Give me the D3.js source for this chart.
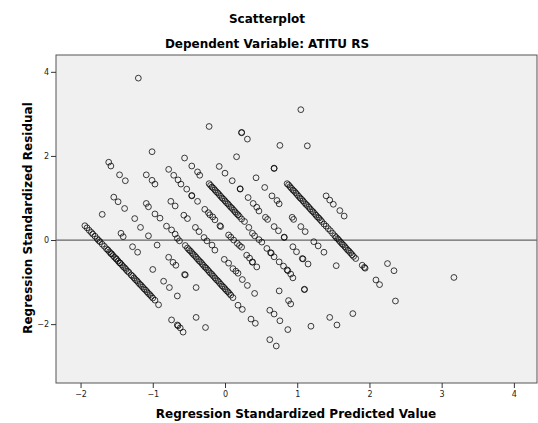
<!DOCTYPE html>
<html>
<head>
<meta charset="utf-8">
<script src="https://cdn.jsdelivr.net/npm/d3@7"></script>
<style>
  body { margin: 0; background: #fff; }
  text { font-family: "DejaVu Sans", Verdana, sans-serif; }
</style>
</head>
<body>
<svg id="chart" width="538" height="423"></svg>
<script>
// ticks
var xTicks = [-2, -1, 0, 1, 2, 3, 4];
var yTicks = [-2, 0, 2, 4];

// residual bands (predicted, residual)
var bandA = [[-1.94,0.34],[-1.91,0.29],[-1.88,0.23],[-1.85,0.18],[-1.83,0.14],[-1.80,0.09],[-1.77,0.03],
  [-1.75,-0.01],[-1.73,-0.04],[-1.70,-0.10],[-1.67,-0.15],[-1.64,-0.21],[-1.62,-0.24],[-1.60,-0.28],
  [-1.58,-0.32],[-1.57,-0.33],[-1.55,-0.37],[-1.53,-0.41],[-1.51,-0.44],[-1.50,-0.46],[-1.48,-0.50],
  [-1.46,-0.54],[-1.45,-0.55],[-1.43,-0.59],[-1.41,-0.63],[-1.39,-0.66],[-1.37,-0.70],[-1.35,-0.74],
  [-1.33,-0.77],[-1.30,-0.83],[-1.28,-0.86],[-1.26,-0.90],[-1.24,-0.94],[-1.22,-0.97],[-1.20,-1.01],
  [-1.18,-1.05],[-1.16,-1.08],[-1.14,-1.12],[-1.12,-1.16],[-1.10,-1.19],[-1.08,-1.23],[-1.06,-1.27],
  [-1.04,-1.30],[-1.02,-1.34],[-1.00,-1.38],[-0.97,-1.43],[-0.92,-1.54],
  [-0.74,-1.90],[-0.66,-2.02],[-0.65,-2.04],[-0.62,-2.09],[-0.58,-2.19]];

var band107 = [[-1.70,0.61],[-1.44,0.16],[-1.41,0.08],[-1.28,-0.16],[-1.21,-0.29],[-1.00,-0.70],
  [-0.85,-0.98],[-0.77,-1.13],[-0.66,-1.33],[-0.40,-1.84],[-0.27,-2.08]];

var band78 = [[-1.54,1.02],[-1.48,0.91],[-1.39,0.75],[-1.25,0.51],[-1.17,0.30],[-1.06,0.10],[-0.94,-0.12],
  [-0.78,-0.41],[-0.72,-0.53],[-0.68,-0.60],[-0.56,-0.82],[-0.55,-0.83],[-0.40,-1.13]];

var bandB = [[-1.61,1.85],[-1.58,1.76],[-1.46,1.55],[-1.38,1.41],[-1.09,0.87],[-1.06,0.79],[-0.97,0.62],
  [-0.90,0.52],[-0.81,0.33],[-0.74,0.24],[-0.69,0.14],[-0.66,0.04],[-0.63,-0.02],
  [-0.55,-0.13],[-0.52,-0.19],[-0.50,-0.23],[-0.48,-0.26],[-0.46,-0.30],[-0.44,-0.34],[-0.42,-0.37],
  [-0.40,-0.41],[-0.38,-0.45],[-0.36,-0.49],[-0.34,-0.52],[-0.32,-0.56],[-0.30,-0.60],[-0.28,-0.64],
  [-0.26,-0.67],[-0.24,-0.71],[-0.22,-0.75],[-0.20,-0.79],[-0.18,-0.82],[-0.16,-0.86],[-0.14,-0.90],
  [-0.12,-0.94],[-0.10,-0.97],[-0.08,-1.01],[-0.06,-1.05],[-0.04,-1.09],[-0.02,-1.12],[0.00,-1.16],
  [0.02,-1.20],[0.04,-1.23],[0.06,-1.27],[0.08,-1.31],[0.11,-1.37],
  [0.18,-1.55],[0.24,-1.65],[0.36,-1.88],[0.42,-1.98],[0.62,-2.37],[0.71,-2.52]];

var bandC = [[-1.09,1.55],[-1.01,1.42],[-0.97,1.33],[-0.75,0.92],[-0.69,0.81],[-0.57,0.59],[-0.52,0.51],
  [-0.41,0.30],[-0.36,0.20],[-0.29,0.06],[-0.25,-0.02],[-0.18,-0.12],[-0.14,-0.24],[-0.01,-0.46],
  [0.05,-0.55],[0.11,-0.68],[0.15,-0.74],[0.18,-0.79],[0.24,-0.94],[0.31,-1.08],[0.41,-1.27],
  [0.62,-1.67],[0.68,-1.76],[0.76,-1.92],[0.87,-2.13]];

var bandD = [[-1.01,2.10],[-0.78,1.68],[-0.71,1.54],[-0.65,1.43],[-0.61,1.33],[-0.53,1.21],[-0.46,1.06],
  [-0.46,1.05],[-0.38,0.92],[-0.28,0.73],[-0.23,0.65],[-0.21,0.60],[-0.17,0.55],[-0.14,0.48],
  [-0.07,0.34],[-0.06,0.32],[0.05,0.12],[0.08,0.07],[0.12,0.00],[0.17,-0.08],[0.20,-0.13],[0.23,-0.17],
  [0.30,-0.36],[0.34,-0.43],[0.38,-0.52],[0.38,-0.53],[0.44,-0.64],[0.75,-1.21],[0.88,-1.44],
  [0.91,-1.52],[1.19,-2.05]];

var bandE = [[-0.56,1.95],[-0.46,1.76],[-0.38,1.62],[-0.35,1.54],
  [-0.22,1.34],[-0.20,1.30],[-0.18,1.26],[-0.16,1.23],[-0.14,1.19],[-0.12,1.15],[-0.10,1.12],
  [-0.08,1.08],[-0.06,1.04],[-0.04,1.00],[-0.02,0.97],[0.00,0.93],[0.02,0.89],[0.04,0.86],[0.06,0.82],
  [0.08,0.78],[0.10,0.75],[0.12,0.71],[0.14,0.67],[0.16,0.63],[0.18,0.60],[0.20,0.56],[0.23,0.50],
  [0.27,0.44],[0.33,0.30],[0.38,0.16],[0.41,0.10],[0.47,0.01],[0.51,-0.05],[0.58,-0.20],[0.63,-0.30],
  [0.64,-0.31],[0.68,-0.40],[0.75,-0.52],[0.81,-0.62],[0.86,-0.71],[0.87,-0.73],[0.91,-0.81],
  [0.94,-0.90],[1.10,-1.17],[1.10,-1.18],[1.45,-1.84],[1.55,-2.02]];

var bandF = [[-1.20,3.85],[-0.08,1.75],[0.00,1.59],[0.10,1.41],[0.21,1.21],[0.21,1.22],[0.32,1.01],
  [0.39,0.87],[0.44,0.78],[0.47,0.69],[0.56,0.54],[0.59,0.49],[0.68,0.32],[0.74,0.22],[0.82,0.06],
  [0.82,0.07],[0.94,-0.16],[0.99,-0.28],[1.07,-0.44],[1.08,-0.45],[1.15,-0.57],[1.77,-1.75]];

var bandG = [[-0.22,2.70],[0.16,1.98],[0.43,1.48],[0.55,1.25],[0.65,1.05],[0.72,0.94],[0.75,0.86],
  [0.93,0.54],[0.95,0.49],[1.05,0.32],[1.11,0.20],[1.23,-0.04],[1.29,-0.14],[1.37,-0.29],[1.54,-0.61]];

var bandH = [[0.23,2.55],[0.23,2.56],[0.31,2.40],[0.68,1.70],[0.68,1.71],
  [0.86,1.34],[0.88,1.31],[0.90,1.27],[0.92,1.23],[0.94,1.19],[0.96,1.16],[0.98,1.12],[1.00,1.08],
  [1.02,1.04],[1.04,1.00],[1.06,0.97],[1.08,0.93],[1.10,0.89],[1.12,0.85],[1.14,0.82],[1.16,0.78],
  [1.18,0.74],[1.20,0.70],[1.22,0.67],[1.24,0.63],[1.26,0.59],[1.28,0.55],[1.30,0.52],[1.32,0.48],
  [1.34,0.44],[1.37,0.38],[1.40,0.33],[1.43,0.27],[1.46,0.22],[1.49,0.16],[1.52,0.10],[1.54,0.06],
  [1.56,0.03],[1.58,-0.01],[1.60,-0.05],[1.62,-0.09],[1.64,-0.12],[1.66,-0.16],[1.68,-0.20],
  [1.70,-0.24],[1.72,-0.27],[1.74,-0.31],[1.76,-0.35],[1.78,-0.39],[1.81,-0.44],
  [1.90,-0.60],[1.93,-0.65],[1.94,-0.67],[2.09,-0.95],[2.14,-1.06],[2.36,-1.45]];

var bandI = [[0.76,2.25],[1.40,1.05],[1.45,0.95],[1.50,0.85],[1.59,0.70],[1.65,0.57],[2.25,-0.56],[2.34,-0.73]];

var bandTop = [[1.14,2.24],[1.05,3.10],[3.17,-0.89]];

var points = [].concat(bandA, band107, band78, bandB, bandC, bandD, bandE, bandF, bandG, bandH, bandI, bandTop);

var svg = d3.select("#chart"),
  margin = {top: 55, right: 1, bottom: 40, left: 56},
  width = +svg.attr("width") - margin.left - margin.right,
  height = +svg.attr("height") - margin.top - margin.bottom,
  g = svg.append("g").attr("transform", "translate(" + margin.left + "," + margin.top + ")");

var x = d3.scaleLinear().domain([-2.34, 4.32]).range([0, width]);
var y = d3.scaleLinear().domain([-3.40, 4.40]).range([height, 0]);

// titles
svg.append("text")
  .attr("x", 267).attr("y", 23)
  .attr("text-anchor", "middle")
  .style("font-size", "12px").style("font-weight", "bold")
  .text("Scatterplot");

svg.append("text")
  .attr("x", 267).attr("y", 48)
  .attr("text-anchor", "middle")
  .style("font-size", "12px").style("font-weight", "bold")
  .text("Dependent Variable: ATITU RS");

// plot background
g.append("rect")
  .attr("width", width).attr("height", height)
  .attr("fill", "#f0f0f0")
  .attr("stroke", "#555").attr("stroke-width", 1);

// axes
var xAxis = g.append("g")
  .attr("transform", "translate(0," + height + ")")
  .call(d3.axisBottom(x).tickValues(xTicks).tickSize(5).tickSizeOuter(0).tickFormat(d3.format("d")));
var yAxis = g.append("g")
  .call(d3.axisLeft(y).tickValues(yTicks).tickSize(5).tickSizeOuter(0).tickFormat(d3.format("d")));

[xAxis, yAxis].forEach(function(a) {
  a.select(".domain").remove();
  a.selectAll(".tick line").attr("stroke", "#333");
  a.selectAll(".tick text")
    .attr("fill", "#222")
    .style("font-family", "DejaVu Sans, sans-serif")
    .style("font-size", "8px");
});
xAxis.selectAll(".tick text").attr("y", 8);
yAxis.selectAll(".tick text").attr("x", -7);

// zero reference line
g.append("line")
  .attr("x1", 0).attr("x2", width)
  .attr("y1", y(0)).attr("y2", y(0))
  .attr("stroke", "#666").attr("stroke-width", 1.3);

// points
g.append("g").selectAll("circle")
  .data(points)
  .enter().append("circle")
    .attr("cx", function(d) { return x(d[0]); })
    .attr("cy", function(d) { return y(d[1]); })
    .attr("r", 2.9)
    .attr("fill", "none")
    .attr("stroke", "#000")
    .attr("stroke-opacity", 0.75)
    .attr("stroke-width", 1);

// axis titles
svg.append("text")
  .attr("x", 296).attr("y", 418)
  .attr("text-anchor", "middle")
  .style("font-size", "12px").style("font-weight", "bold")
  .text("Regression Standardized Predicted Value");

svg.append("text")
  .attr("transform", "translate(32,218) rotate(-90)")
  .attr("text-anchor", "middle")
  .style("font-size", "12px").style("font-weight", "bold")
  .text("Regression Standardized Residual");
</script>
</body>
</html>
